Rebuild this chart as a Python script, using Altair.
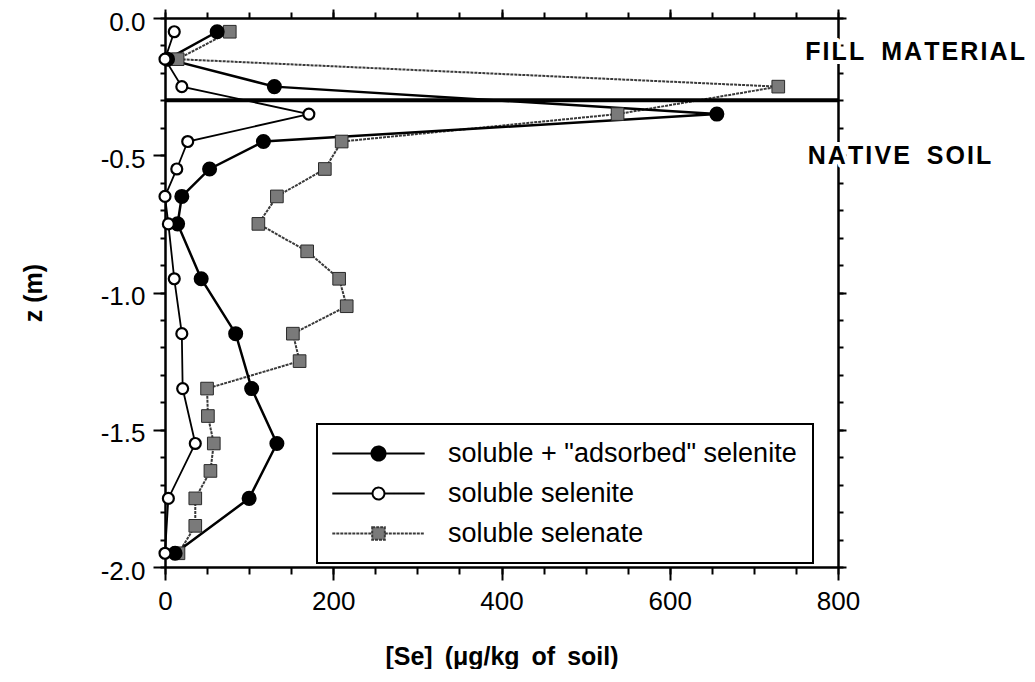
import altair as alt
import pandas as pd

FONT = "Liberation Sans"

series_names = ['soluble + "adsorbed" selenite', "soluble selenite", "soluble selenate"]

depth_selenite = [-0.05, -0.15, -0.25, -0.35, -0.45, -0.55, -0.65, -0.75, -0.95, -1.15, -1.35, -1.55, -1.75, -1.95]
adsorbed_selenite = [62, 3, 130, 656, 117, 53, 20, 15, 43, 84, 103, 133, 100, 12]
soluble_selenite = [11, 0, 20, 171, 27, 14, 0, 4, 11, 20, 21, 36, 4, 0]

depth_selenate = [-0.05, -0.15, -0.25, -0.35, -0.45, -0.55, -0.65, -0.75, -0.85, -0.95,
                  -1.05, -1.15, -1.25, -1.35, -1.45, -1.55, -1.65, -1.75, -1.85, -1.95]
soluble_selenate = [77, 15, 729, 538, 210, 190, 133, 111, 169, 207, 216, 152, 160, 50, 51, 58, 54, 36, 36, 16]

boundary_depth = [-0.3]

ann_words = [["FILL", "MATERIAL"], ["NATIVE", "SOIL"]]
ann_x = [761, 764]
ann_y = [-0.153, -0.532]

x_major = [0, 200, 400, 600, 800]
x_minor = list(range(0, 801, 50))
y_major = [0.0, -0.5, -1.0, -1.5, -2.0]
y_minor = [round(-i / 10, 1) for i in range(21)]

x_title = "[Se]\u2009 (\u03bcg/kg\u2009 of\u2009 soil)"
y_title = "z (m)"

# ---- tables built from the arrays above ----
rows = []
for key, name, depths, vals in [
    ("ads", series_names[0], depth_selenite, adsorbed_selenite),
    ("sel", series_names[1], depth_selenite, soluble_selenite),
    ("sen", series_names[2], depth_selenate, soluble_selenate),
]:
    for i, (d, v) in enumerate(zip(depths, vals)):
        rows.append({"key": key, "series": name, "z": d, "se": v, "idx": i})
df = pd.DataFrame(rows)

def spaced(words):
    return "\u2009 \u2009".join("\u200a".join(list(w)) for w in words)

ann_df = pd.DataFrame({"label": [spaced(w) for w in ann_words], "x": ann_x, "z": ann_y})
rule_df = pd.DataFrame({"z": boundary_depth})

xs = alt.Scale(domain=[0, 800], nice=False, zero=False)
ys = alt.Scale(domain=[-2.0, 0.0], nice=False, zero=False)

common_axis = dict(grid=False, labelFlush=False, labelOverlap=False, domainColor="black",
                   domainWidth=2, tickColor="black", tickWidth=2)

ax_x_bottom_major = alt.Axis(orient="bottom", values=x_major, tickSize=13, labels=True,
                             labelFont=FONT, labelFontSize=26, labelColor="black", labelPadding=8,
                             title=x_title, titleFont=FONT, titleFontSize=25, titleFontWeight="bold",
                             titleColor="black", titlePadding=30, **common_axis)
ax_x_bottom_minor = alt.Axis(orient="bottom", values=x_minor, tickSize=7, labels=False, title=None, **common_axis)
ax_x_top_major = alt.Axis(orient="top", values=x_major, tickSize=9, labels=False, title=None, **common_axis)
ax_x_top_minor = alt.Axis(orient="top", values=x_minor, tickSize=6, labels=False, title=None, **common_axis)

ax_y_left_major = alt.Axis(orient="left", values=y_major, tickSize=12, labels=True,
                           labelExpr="replace(format(datum.value, '.1f'), '\u2212', '-')",
                           labelFont=FONT, labelFontSize=26, labelColor="black", labelPadding=8,
                           labelOffset=4,
                           title=y_title, titleFont=FONT, titleFontSize=25, titleFontWeight="bold",
                           titleColor="black", titlePadding=54, **common_axis)
ax_y_left_minor = alt.Axis(orient="left", values=y_minor, tickSize=5, labels=False, title=None, **common_axis)
ax_y_right_major = alt.Axis(orient="right", values=y_major, tickSize=8, labels=False, title=None, **common_axis)
ax_y_right_minor = alt.Axis(orient="right", values=y_minor, tickSize=5, labels=False, title=None, **common_axis)

base = alt.Chart(df)

def line_layer(key, axx, axy, **mk):
    return base.transform_filter(alt.datum.key == key).mark_line(**mk).encode(
        x=alt.X("se:Q", scale=xs, axis=axx),
        y=alt.Y("z:Q", scale=ys, axis=axy),
        order=alt.Order("idx:Q"),
    )

def point_layer(key, axx, axy, **mk):
    return base.transform_filter(alt.datum.key == key).mark_point(**mk).encode(
        x=alt.X("se:Q", scale=xs, axis=axx),
        y=alt.Y("z:Q", scale=ys, axis=axy),
    )

selenate_line = line_layer("sen", ax_x_bottom_minor, ax_y_left_minor,
                           color="#3a3a3a", strokeWidth=2, strokeDash=[3, 1])
selenite_line = line_layer("sel", ax_x_top_minor, ax_y_right_minor, color="black", strokeWidth=1.8)
adsorbed_line = line_layer("ads", ax_x_bottom_major, ax_y_left_major, color="black", strokeWidth=2.5)

rule = alt.Chart(rule_df).mark_rule(color="black", strokeWidth=4).encode(
    y=alt.Y("z:Q", scale=ys, axis=None)
)

square_pts = point_layer("sen", ax_x_top_major, ax_y_right_major, shape="square", filled=True,
                         fill="#7a7a7a", stroke="#2a2a2a", strokeWidth=1, size=160, opacity=1)
filled_pts = point_layer("ads", None, None, shape="circle", filled=True, fill="black",
                         stroke="black", size=170, opacity=1)
open_pts = point_layer("sel", None, None, shape="circle", filled=True, fill="white",
                       stroke="black", strokeWidth=2.2, size=120, opacity=1)

# legend symbols: line segment with marker (unit square -1..1 scaled by sqrt(size)/2)
L = 6.6
path_filled = f"M{-L},0H-1M1,0H{L}M-1,0A1,1,0,1,0,1,0A1,1,0,1,0,-1,0Z"
path_open = f"M{-L},0H-0.85M0.85,0H{L}M-0.85,0A0.85,0.85,0,1,0,0.85,0A0.85,0.85,0,1,0,-0.85,0Z"
path_square = f"M{-L},0H-0.9M0.9,0H{L}M-0.9,-0.9H0.9V0.9H-0.9Z"

leg = alt.Legend(title=None, orient="none", legendX=152, legendY=406, direction="vertical",
                 padding=16, strokeColor="black", fillColor="white",
                 labelFont=FONT, labelFontSize=27, labelColor="black", labelLimit=700,
                 labelOffset=56, symbolOffset=32, symbolSize=196, symbolStrokeWidth=2,
                 rowPadding=12)

legend_layer = alt.Chart(df).transform_filter("false").mark_point(filled=True, opacity=1, size=196).encode(
    x=alt.X("se:Q", scale=xs, axis=None),
    y=alt.Y("z:Q", scale=ys, axis=None),
    shape=alt.Shape("series:N", scale=alt.Scale(domain=series_names,
                    range=[path_filled, path_open, path_square]), legend=leg),
    fill=alt.Fill("series:N", scale=alt.Scale(domain=series_names,
                  range=["black", "white", "#7a7a7a"]), legend=leg),
    stroke=alt.Stroke("series:N", scale=alt.Scale(domain=series_names,
                      range=["black", "black", "#3a3a3a"]), legend=leg),
    strokeDash=alt.StrokeDash("series:N", scale=alt.Scale(domain=series_names,
                              range=[[1, 0], [1, 0], [3, 1]]), legend=leg),
)

halo = alt.Chart(ann_df).mark_text(align="left", baseline="alphabetic", font=FONT, fontWeight="bold",
                                   fontSize=25, fill="white", stroke="white", strokeWidth=8,
                                   strokeJoin="round").encode(
    x=alt.X("x:Q", scale=xs, axis=None),
    y=alt.Y("z:Q", scale=ys, axis=None),
    text="label:N",
)
ann = alt.Chart(ann_df).mark_text(align="left", baseline="alphabetic", font=FONT, fontWeight="bold",
                                  fontSize=25, fill="black").encode(
    x=alt.X("x:Q", scale=xs, axis=None),
    y=alt.Y("z:Q", scale=ys, axis=None),
    text="label:N",
)

chart = alt.layer(
    selenate_line, selenite_line, adsorbed_line, rule,
    square_pts, filled_pts, open_pts, legend_layer, halo, ann,
).resolve_axis(x="independent", y="independent").properties(
    width=673, height=549,
    padding={"left": 13, "top": 0, "right": 0, "bottom": 0},
    background="white",
).configure_view(stroke=None).configure_legend(strokeWidth=2)

chart.save("out.html", embed_options={"renderer": "svg", "actions": False})
